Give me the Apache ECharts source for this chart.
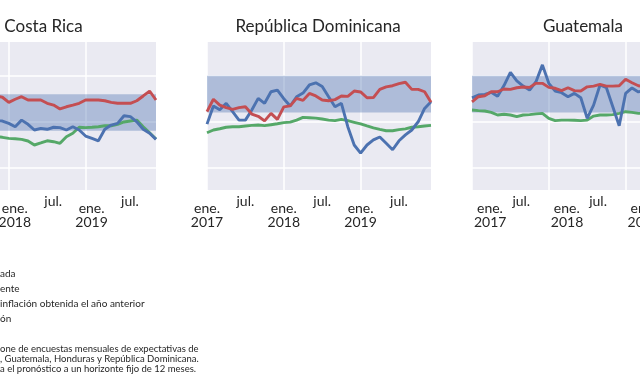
<!DOCTYPE html>
<html><head><meta charset="utf-8">
<script src="https://cdn.jsdelivr.net/npm/echarts@6/dist/echarts.min.js"></script>
<style>html,body{margin:0;padding:0;background:#fff}#c{width:640px;height:388px}</style>
</head><body><div id="c"></div>
<script>
const FONT = 'Lato, sans-serif';
const monthNames = ['ene.','feb.','mar.','abr.','may.','jun.','jul.','ago.','sep.','oct.','nov.','dic.'];
const years = ['2017','2018','2019'];
const countries = ['Costa Rica','República Dominicana','Guatemala'];
const gridValues = [0, 2.5, 5];
const targetBands = [[2, 4], [3, 5], [3, 5]];

// Costa Rica
const crObserved = [1.35,1.45,1.3,1.55,1.75,1.65,1.4,1.5,2.15,2.3,2.55,2.53,2.4,2.22,2.58,2.35,2.04,2.13,2.08,2.19,2.17,2.04,2.22,2.04,1.71,1.58,1.45,2.08,2.31,2.4,2.82,2.77,2.49,2.08,1.86,1.53];
const crCurrent  = [3.55,3.6,3.5,3.45,3.5,3.6,3.65,3.7,3.75,3.8,3.9,3.83,3.55,3.72,3.86,3.68,3.68,3.68,3.5,3.4,3.19,3.31,3.4,3.5,3.68,3.68,3.68,3.64,3.55,3.5,3.5,3.5,3.64,3.9,4.17,3.68];
const crPrevious = [1.25,1.3,1.3,1.35,1.4,1.45,1.5,1.55,1.6,1.65,1.68,1.64,1.58,1.56,1.53,1.44,1.22,1.33,1.45,1.4,1.31,1.67,1.86,2.19,2.17,2.19,2.22,2.27,2.27,2.35,2.48,2.53,2.58,2.22,1.89,1.55];
// República Dominicana
const drObserved = [2.36,3.35,3.15,3.5,3.04,2.58,2.58,3.13,3.77,3.5,4.13,4.22,3.75,3.35,3.86,4.06,4.5,4.62,4.42,3.86,3.31,3.5,2.22,1.22,0.77,1.22,1.5,1.66,1.31,0.96,1.45,1.77,2.04,2.49,3.22,3.58];
const drCurrent  = [3.04,3.72,3.4,3.26,3.17,3.26,3.31,2.91,2.79,2.54,2.95,2.62,3.3,3.36,3.77,3.66,4.04,3.9,3.68,3.64,3.7,3.9,3.88,4.17,4.12,3.8,3.81,4.26,4.4,4.46,4.57,4.65,4.26,4.26,4.13,3.55];
const drPrevious = [1.89,2.04,2.11,2.19,2.22,2.22,2.26,2.29,2.31,2.28,2.33,2.38,2.44,2.47,2.58,2.73,2.71,2.69,2.64,2.58,2.55,2.62,2.55,2.46,2.37,2.26,2.16,2.07,2.0,2.0,2.06,2.1,2.19,2.22,2.26,2.29];
// Guatemala
const gtObserved = [3.8,3.95,3.99,4.1,3.88,4.47,5.19,4.72,4.44,4.22,4.68,5.6,4.59,4.17,4.08,3.86,4.04,3.8,2.68,3.4,4.5,4.35,3.31,2.27,4.04,4.34,4.12,4.2,4.5,4.8,4.9,4.2,3.8,4.0,4.1,3.4];
const gtCurrent  = [3.58,3.86,3.91,4.13,4.13,4.28,4.26,4.35,4.39,4.37,4.59,4.59,4.37,4.32,4.19,4.35,4.19,4.17,4.4,4.44,4.53,4.44,4.44,4.46,4.81,4.62,4.46,4.4,4.4,4.5,4.5,4.4,4.3,4.3,4.4,4.3];
const gtPrevious = [3.13,3.1,3.08,3.0,2.86,2.9,2.86,2.77,2.86,2.88,2.92,2.95,2.68,2.55,2.58,2.58,2.57,2.55,2.58,2.8,2.86,2.86,2.88,2.95,3.04,3.0,2.95,2.95,2.98,3.0,3.0,3.05,3.1,3.1,3.1,3.1];

const legendFragments = ['ada', 'ente', 'inflación obtenida el año anterior', 'ón'];
const noteFragments = ['one de encuestas mensuales de expectativas de', ', Guatemala, Honduras y República Dominicana.', 'a el pronóstico a un horizonte fijo de 12 meses.'];

const categories = [];
years.forEach(y => monthNames.forEach(m => categories.push(m + ' ' + y)));
const observed = [crObserved, drObserved, gtObserved];
const current = [crCurrent, drCurrent, gtCurrent];
const previous = [crPrevious, drPrevious, gtPrevious];

const panelLeft = [-68, 207, 472];
// label placement per panel: alignment and left padding of each label line
const labelAlign = ['center', 'center', 'left'];
const labelPad = [{e: 12, y: 12, j: 12}, {e: 0, y: 0, j: 0}, {e: 5, y: 2, j: 2}];
const panelW = 224;
const COLORS = {obs: '#4C72B0', cur: '#C44E52', prev: '#55A868'};

const grids = [], xAxes = [], yAxes = [], series = [];
for (let g = 0; g < 3; g++) {
  grids.push({left: panelLeft[g], top: 42, width: panelW, height: 148, show: true,
    backgroundColor: '#EAEAF2', borderWidth: 0, containLabel: false, outerBoundsMode: 'none'});
  const tok = (p) => ({fontSize: 14, lineHeight: 14, fontFamily: FONT, color: '#262626', padding: [0, 0, 0, p]});
  xAxes.push({gridIndex: g, type: 'category', data: categories, boundaryGap: false,
    axisLine: {show: false}, axisTick: {show: false},
    splitLine: {show: true, interval: (i) => i % 12 === 0, lineStyle: {color: '#ffffff', width: 1.5}},
    axisLabel: {interval: (i) => i % 6 === 0, margin: 4, color: '#262626', fontFamily: FONT,
      align: labelAlign[g], verticalAlign: 'top', hideOverlap: false, showMinLabel: true, showMaxLabel: true,
      formatter: (v) => {
        const parts = v.split(' ');
        if (parts[0] === 'ene.') return '{s| }\n{e|ene.}\n{y|' + parts[1] + '}';
        if (parts[0] === 'jul.') return '{j|jul.}';
        return '';
      },
      rich: {
        s: {fontSize: 2, lineHeight: 7, fontFamily: FONT},
        e: tok(labelPad[g].e), y: tok(labelPad[g].y), j: tok(labelPad[g].j)
      }}
  });
  yAxes.push({gridIndex: g, type: 'value', min: -1.24, max: 6.85, show: false});
  series.push({type: 'line', xAxisIndex: g, yAxisIndex: g, data: [], silent: true,
    markLine: {silent: true, symbol: 'none', z: 0, label: {show: false},
      lineStyle: {color: '#ffffff', width: 1.5, type: 'solid'},
      data: gridValues.map(v => ({yAxis: v}))},
    markArea: {silent: true, z: 1, itemStyle: {color: 'rgba(76,114,176,0.38)'},
      data: [[{yAxis: targetBands[g][0]}, {yAxis: targetBands[g][1]}]]}
  });
  [['prev', previous], ['obs', observed], ['cur', current]].forEach(([k, arr]) => {
    series.push({type: 'line', xAxisIndex: g, yAxisIndex: g, data: arr[g], symbol: 'none',
      silent: true, lineStyle: {color: COLORS[k], width: 2.9}, itemStyle: {color: COLORS[k]}, z: 2});
  });
}

const titleX = [43.5, 318, 583];
const graphics = countries.map((c, i) => ({type: 'text', x: titleX[i], y: 27, silent: true,
  style: {text: c, fill: '#262626', font: '17px ' + FONT, align: 'center', verticalAlign: 'middle'}}));
legendFragments.forEach((t, i) => graphics.push({type: 'text', x: 0, y: 274 + i * 15, silent: true,
  style: {text: t, fill: '#262626', font: '10px ' + FONT, align: 'left', verticalAlign: 'middle'}}));
noteFragments.forEach((t, i) => graphics.push({type: 'text', x: 0, y: 349 + i * 10, silent: true,
  style: {text: t, fill: '#262626', font: '9.5px ' + FONT, align: 'left', verticalAlign: 'middle'}}));

const chart = echarts.init(document.getElementById('c'), null, {renderer: 'canvas'});
chart.setOption({animation: false, backgroundColor: '#ffffff', grid: grids, xAxis: xAxes, yAxis: yAxes,
  series: series, graphic: graphics});
</script></body></html>
